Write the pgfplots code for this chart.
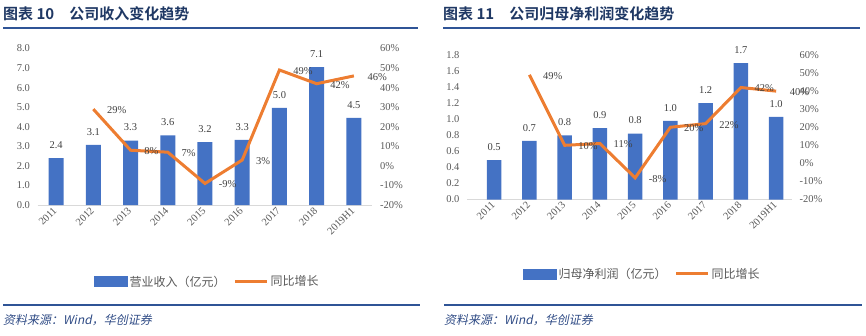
\documentclass[border=0pt]{standalone}
\usepackage{pgfplots}
\pgfplotsset{compat=1.18}
\usepackage{fontspec}
\setmainfont{Liberation Serif}
\newfontfamily\cjk{Noto Sans CJK SC}[BoldFont={Noto Sans CJK SC Bold}]
\newfontfamily\cjkit{Noto Sans CJK SC}[FakeSlant=0.2]
\definecolor{barblue}{HTML}{4472C4}
\definecolor{lineor}{HTML}{ED7D31}
\definecolor{titleblue}{HTML}{1F3864}
\definecolor{rulecol}{HTML}{2F5496}
\definecolor{srcblue}{HTML}{2F4B85}
\definecolor{tickgray}{HTML}{595959}
\definecolor{axgray}{HTML}{D9D9D9}
\definecolor{lblgray}{HTML}{404040}
\pgfplotsset{
  base/.style={scale only axis, xmin=-0.5, xmax=8.5, clip=false,
    major tick length=0pt,
    /pgf/number format/assume math mode=true,
    tick label style={font=\fontsize{10.5}{12}\selectfont, text=tickgray},
  },
  barax/.style={base, ybar, bar width=15pt,
    xtick={0,...,8}, xticklabels={2011,2012,2013,2014,2015,2016,2017,2018,2019H1},
    xticklabel style={rotate=45, anchor=east, yshift=-2pt},
    axis x line*=bottom, axis y line*=left,
    y axis line style={draw=none},
    x axis line style={draw=axgray, line width=0.8pt},
    yticklabel style={xshift=-4pt, /pgf/number format/fixed, /pgf/number format/fixed zerofill, /pgf/number format/precision=1},
    nodes near coords, point meta=y,
    nodes near coords style={font=\fontsize{10.5}{12}\selectfont, text=lblgray, yshift=6pt,
      /pgf/number format/fixed, /pgf/number format/fixed zerofill, /pgf/number format/precision=1},
  },
  lineax/.style={base, axis y line*=right, axis x line=none,
    y axis line style={draw=none},
    ymin=-20, ymax=60, ytick={-20,-10,...,60},
    yticklabel={\pgfmathprintnumber{\tick}\%},
    yticklabel style={xshift=4pt},
    legend columns=2,
    legend style={draw=none, fill=none, font=\cjk\fontsize{12}{13}\selectfont, text=tickgray,
      /tikz/every even column/.append style={column sep=6pt}},
  },
  lineplot/.style={lineor, line width=3pt, mark=none,
    nodes near coords={\pgfmathprintnumber{\pgfplotspointmeta}\%}, point meta=y,
    every node near coord/.append style={anchor=west, xshift=9pt, yshift=-1pt,
      font=\fontsize{10.5}{12}\selectfont, text=lblgray},
    legend image code/.code={\draw[lineor, line width=3pt] (0pt,0pt) -- (32pt,0pt);}},
  barleg/.style={legend image code/.code={\fill[barblue] (0pt,-5pt) rectangle (33pt,5pt);}},
}
\begin{document}
\begin{tikzpicture}[x=1pt,y=1pt]
\useasboundingbox (0,0) rectangle (866,335);
% titles and rules
\node[anchor=west, inner sep=0, text=titleblue, font=\cjk\bfseries\fontsize{15}{15}\selectfont] at (3,321) {图表 10\quad 公司收入变化趋势};
\node[anchor=west, inner sep=0, text=titleblue, font=\cjk\bfseries\fontsize{15}{15}\selectfont] at (443,321) {图表 11\quad 公司归母净利润变化趋势};
\draw[rulecol, line width=1.5pt] (3,307) -- (418,307);
\draw[rulecol, line width=1.5pt] (443,307) -- (860,307);
\draw[rulecol, line width=1.5pt] (3,30) -- (420,30);
\draw[rulecol, line width=1.5pt] (444,30) -- (862,30);
\node[anchor=west, inner sep=0, text=srcblue, font=\cjkit\fontsize{12}{12}\selectfont] at (3,15) {资料来源：Wind，华创证券};
\node[anchor=west, inner sep=0, text=srcblue, font=\cjkit\fontsize{12}{12}\selectfont] at (444,15) {资料来源：Wind，华创证券};

% ---------- left chart ----------
\begin{axis}[barax, at={(37.5pt,130pt)}, anchor=south west, width=335pt, height=156.5pt,
  ymin=0, ymax=8, ytick={0,1,...,8}]
\addplot[fill=barblue, draw=none] coordinates {(0,2.40) (1,3.07) (2,3.29) (3,3.56) (4,3.21) (5,3.33) (6,4.96) (7,7.05) (8,4.46)};
\end{axis}
\begin{axis}[lineax, at={(37.5pt,130pt)}, anchor=south west, width=335pt, height=156.5pt,
  legend style={at={(0.507,-0.49)}, anchor=center}]
\addlegendimage{barleg}
\addlegendentry{营业收入（亿元）}
\addplot[lineplot] coordinates {(1,29) (2,8) (3,7) (4,-9) (5,3) (6,49) (7,42) (8,46)};
\addlegendentry{同比增长}
\end{axis}

% ---------- right chart ----------
\begin{axis}[barax, at={(467pt,135.5pt)}, anchor=south west, width=325pt, height=144.5pt,
  xmin=-0.77, xmax=8.45, bar width=14.5pt,
  ymin=0, ymax=1.8, ytick={0,0.2,...,1.8}]
\addplot[fill=barblue, draw=none] coordinates {(0,0.49) (1,0.73) (2,0.80) (3,0.89) (4,0.82) (5,0.98) (6,1.20) (7,1.70) (8,1.03)};
\end{axis}
\begin{axis}[lineax, at={(467pt,135.5pt)}, anchor=south west, width=325pt, height=144.5pt,
  xmin=-0.77, xmax=8.45,
  legend style={at={(0.54,-0.514)}, anchor=center}]
\addlegendimage{barleg}
\addlegendentry{归母净利润（亿元）}
\addplot[lineplot] coordinates {(1,49) (2,10) (3,11) (4,-8) (5,20) (6,22) (7,42) (8,40)};
\addlegendentry{同比增长}
\end{axis}
\end{tikzpicture}
\end{document}
